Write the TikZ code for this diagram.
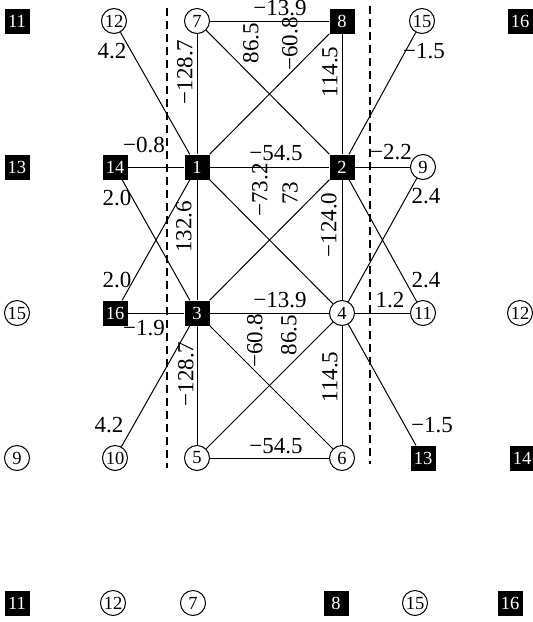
\documentclass[tikz,border=0pt]{standalone}
\usepackage{fontspec}
\setmainfont{Liberation Serif}
\begin{document}
\begin{tikzpicture}[x=1pt,y=-1pt,
  sq/.style={rectangle,fill=black,text=white,minimum size=25pt,inner sep=0pt,font=\fontsize{18.5}{18.5}\selectfont},
  ci/.style={circle,draw=black,fill=white,line width=1pt,minimum size=25pt,inner sep=0pt,font=\fontsize{18.5}{18.5}\selectfont},
  lab/.style={inner sep=0pt,font=\fontsize{23}{23}\selectfont,anchor=base},
  vlab/.style={inner sep=0pt,font=\fontsize{23}{23}\selectfont,rotate=90},
  edge/.style={line width=1pt},
  sep/.style={line width=2.6pt,dash pattern=on 8pt off 5pt}]
\useasboundingbox (0,0) rectangle (533,622);
% separators
\coordinate (s1a) at (167,8);
\coordinate (s1b) at (167,468);
\coordinate (s2a) at (370,6);
\coordinate (s2b) at (370,464);
\draw[sep] (s1a) -- (s1b);
\draw[sep] (s2a) -- (s2b);
% nodes
\node[sq] (L11) at (17,21) {11};
\node[ci] (T12) at (114,21) {12};
\node[ci] (n7) at (197,21) {7};
\node[sq] (n8) at (342,21) {8};
\node[ci] (T15) at (422,21) {15};
\node[sq] (T16) at (520,21) {16};
\node[sq] (L13) at (17,167) {13};
\node[sq] (n14) at (115,167) {14};
\node[sq] (n1) at (197,167) {1};
\node[sq] (n2) at (342,167) {2};
\node[ci] (n9) at (423,167) {9};
\node[ci] (L15) at (17,313) {15};
\node[sq] (n16) at (115,313) {16};
\node[sq] (n3) at (197,313) {3};
\node[ci] (n4) at (342,313) {4};
\node[ci] (n11) at (423,313) {11};
\node[ci] (R12) at (520,313) {12};
\node[ci] (L9) at (17,458) {9};
\node[ci] (n10) at (115,458) {10};
\node[ci] (n5) at (197,458) {5};
\node[ci] (n6) at (342,458) {6};
\node[sq] (n13) at (423,458) {13};
\node[sq] (R14) at (522,458) {14};
\node[sq] (B11) at (17,603) {11};
\node[ci] (B12) at (113,603) {12};
\node[ci] (B7) at (193,603) {7};
\node[sq] (B8) at (336,603) {8};
\node[ci] (B15) at (415,603) {15};
\node[sq] (B16) at (510,603) {16};
% edges
\draw[edge] (T12) -- (n1);
\draw[edge] (n7) -- (n1);
\draw[edge] (n7) -- (n8);
\draw[edge] (n7) -- (n2);
\draw[edge] (n8) -- (n1);
\draw[edge] (n8) -- (n2);
\draw[edge] (T15) -- (n2);
\draw[edge] (n14) -- (n1);
\draw[edge] (n1) -- (n2);
\draw[edge] (n2) -- (n9);
\draw[edge] (n14) -- (n3);
\draw[edge] (n16) -- (n1);
\draw[edge] (n1) -- (n3);
\draw[edge] (n1) -- (n4);
\draw[edge] (n3) -- (n2);
\draw[edge] (n2) -- (n4);
\draw[edge] (n9) -- (n4);
\draw[edge] (n2) -- (n11);
\draw[edge] (n16) -- (n3);
\draw[edge] (n3) -- (n4);
\draw[edge] (n4) -- (n11);
\draw[edge] (n3) -- (n10);
\draw[edge] (n3) -- (n5);
\draw[edge] (n3) -- (n6);
\draw[edge] (n5) -- (n4);
\draw[edge] (n4) -- (n6);
\draw[edge] (n5) -- (n6);
\draw[edge] (n4) -- (n13);
% horizontal labels
\node[lab] (l1) at (280,15) {−13.9};
\node[lab] (l2) at (112,58) {4.2};
\node[lab] (l3) at (424,58) {−1.5};
\node[lab] (l4) at (144,152) {−0.8};
\node[lab] (l5) at (276,160) {−54.5};
\node[lab] (l6) at (391,159) {−2.2};
\node[lab] (l7) at (117,205) {2.0};
\node[lab] (l8) at (117,287) {2.0};
\node[lab] (l9) at (426,203) {2.4};
\node[lab] (l10) at (426,287) {2.4};
\node[lab] (l11) at (144,335) {−1.9};
\node[lab] (l12) at (280,307) {−13.9};
\node[lab] (l13) at (390,307) {1.2};
\node[lab] (l14) at (109,432) {4.2};
\node[lab] (l15) at (276,453) {−54.5};
\node[lab] (l16) at (432,432) {−1.5};
% rotated labels
\node[vlab] (v1) at (185,72) {−128.7};
\node[vlab] (v2) at (251,43) {86.5};
\node[vlab] (v3) at (290,44) {−60.8};
\node[vlab] (v4) at (330,72) {114.5};
\node[vlab] (v5) at (184,227) {132.6};
\node[vlab] (v6) at (260,190) {−73.2};
\node[vlab] (v7) at (290,193) {73};
\node[vlab] (v8) at (329,225) {−124.0};
\node[vlab] (v9) at (255,341) {−60.8};
\node[vlab] (v10) at (289,335) {86.5};
\node[vlab] (v11) at (330,377) {114.5};
\node[vlab] (v12) at (186,374) {−128.7};
\end{tikzpicture}
\end{document}
